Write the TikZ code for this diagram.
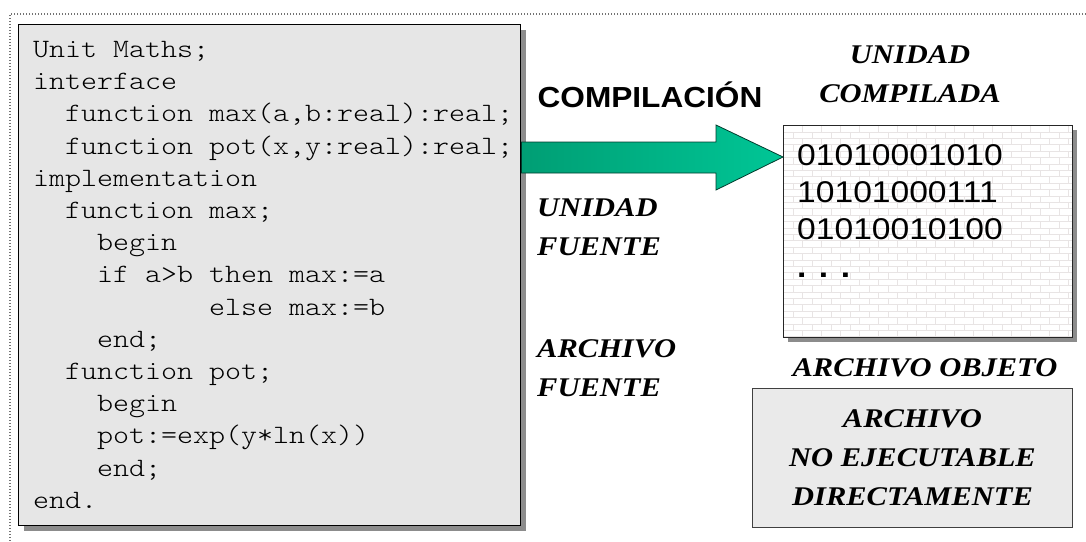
\documentclass[tikz,border=0pt]{standalone}
\usepackage{fontspec}
\usetikzlibrary{shadows,calc}
\newfontfamily\codefont[FakeStretch=1.15]{lmmonolt10-regular.otf}
\newfontfamily\tagfont[FakeStretch=1.13]{Liberation Serif}
\newfontfamily\headfont[FakeStretch=1.09]{Liberation Sans}
\newfontfamily\bitsfont[FakeStretch=1.12]{Liberation Sans}
\newcommand\codeind[1]{\hspace*{#1\fontcharwd\font`x}}
\definecolor{arrowdark}{RGB}{0,158,116}
\definecolor{arrowlight}{RGB}{0,198,150}
\definecolor{arrowline}{RGB}{0,60,45}
\definecolor{panelgray}{RGB}{230,230,230}
\definecolor{notegray}{RGB}{234,234,234}
\definecolor{brickgray}{RGB}{232,228,228}

\begin{document}
\begin{tikzpicture}[x=1pt, y=-1pt,
    frame/.style={black!55, line width=1.2pt, dash pattern=on 1.2pt off 1.8pt},
    boldit/.style={font={\tagfont\bfseries\itshape\fontsize{27}{39}\selectfont}, inner sep=0pt},
    codebox/.style={draw=black, line width=1.4pt, fill=panelgray, anchor=north west, inner sep=0pt,
        drop shadow={shadow xshift=5pt, shadow yshift=-5pt, fill=black!45, opacity=1}},
    binbox/.style={draw=black!85, line width=1.2pt, fill=white, anchor=north west, inner sep=0pt,
        drop shadow={shadow xshift=4pt, shadow yshift=-4pt, fill=black!45, opacity=1},
        path picture={
            \foreach \r in {0,...,33} {
                \draw[brickgray, line width=0.8pt] ($(path picture bounding box.north west)+(0,\r*6.4)$) -- ++(300,0);
                \foreach \c in {0,...,15}
                    \draw[brickgray, line width=0.8pt] ($(path picture bounding box.north west)+({\c*19+mod(\r,2)*9.5},\r*6.4)$) -- ++(0,6.4);
            }}},
    notebox/.style={draw=black!75, line width=1pt, fill=notegray, anchor=north west, inner sep=0pt},
    bigarrow/.style={draw=arrowline, line width=0.8pt, left color=arrowdark, right color=arrowlight}]
    \useasboundingbox (0,0) rectangle (1086,541);

    % Dotted frame
    \draw[frame] (1086,14) -- (10,14) -- (10,541);

    % Source unit
    \node at (18, 24) (code) [codebox, minimum width=502, minimum height=501] {};
    \node at (33, 41) (src) [anchor=north west, inner sep=0pt, align=left,
        font={\codefont\fontsize{26.5}{32.2}\selectfont\spaceskip=\fontcharwd\font`x\relax}] {%
        Unit Maths;\\
        interface\\
        \codeind{2}function max(a,b:real):real;\\
        \codeind{2}function pot(x,y:real):real;\\
        implementation\\
        \codeind{2}function max;\\
        \codeind{4}begin\\
        \codeind{4}if a>b then max:=a\\
        \codeind{11}else max:=b\\
        \codeind{4}end;\\
        \codeind{2}function pot;\\
        \codeind{4}begin\\
        \codeind{4}pot:=exp(y*ln(x))\\
        \codeind{4}end;\\
        end.};

    % Compiled unit
    \node at (783, 125) (bin) [binbox, minimum width=289, minimum height=212] {};
    \node at (797, 144) (bits) [anchor=north west, inner sep=0pt, align=left,
        font={\bitsfont\fontsize{30}{37.4}\selectfont}] {01010001010\\10101000111\\01010010100\\{\bfseries. . .}};

    % Compilation arrow
    \draw[bigarrow] ($(code.north east)+(0,118)$) -- (716,142) -- (716,125) -- ($(bin.north west)+(0,32)$)
        -- (716,190) -- (716,173) -- ($(code.north east)+(0,149)$) -- cycle;

    % Labels
    \node at (650, 107) (compLbl) [anchor=base, inner sep=0pt,
        font={\headfont\bfseries\fontsize{29}{35}\selectfont}] {COMPILACIÓN};
    \node at (910, 45) (binLbl) [boldit, anchor=north, align=center] {UNIDAD\\COMPILADA};
    \node at (537, 198) (srcLbl) [boldit, anchor=north west, align=left] {UNIDAD\\FUENTE};
    \node at (537, 339) (fileLbl) [boldit, anchor=north west, align=left] {ARCHIVO\\FUENTE};
    \node at (925, 358) (objLbl) [boldit, anchor=north] {ARCHIVO OBJETO};

    % Note box
    \node at (752, 388) (note) [notebox, minimum width=320, minimum height=139, align=center,
        font={\tagfont\bfseries\itshape\fontsize{27}{39}\selectfont}] {ARCHIVO\\NO EJECUTABLE\\DIRECTAMENTE};
\end{tikzpicture}
\end{document}
